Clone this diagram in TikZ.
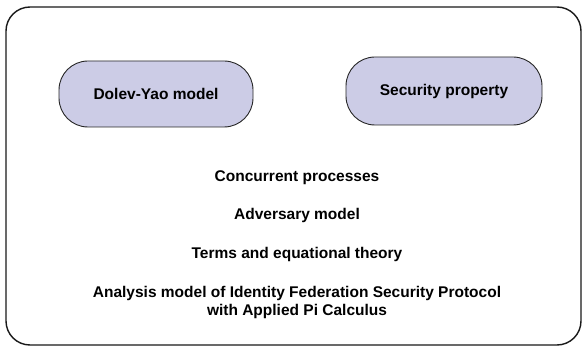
\documentclass[tikz,border=0pt]{standalone}
\usepackage{fontspec}
\setmainfont{Liberation Sans}
\tikzset{
  model/.style={draw=black!85,line width=0.9pt,fill=lavender,rounded corners=29pt,
    minimum width=194pt,minimum height=66pt,font=\bfseries\fontsize{15.5}{17}\selectfont},
  layer/.style={font=\bfseries\fontsize{15.5}{18}\selectfont,align=center,inner sep=0pt}
}
\definecolor{lavender}{RGB}{204,204,230}
\begin{document}
\begin{tikzpicture}[x=1pt,y=1pt]
    \useasboundingbox (0,0) rectangle (582,346);
    \draw[line width=1.4pt,rounded corners=24pt,draw=black!90] (6,339) rectangle (581,1);
    \node[model] (dolev) at (156,252) {Dolev-Yao model};
    \node[model,minimum width=196pt,minimum height=68pt] (secprop) at (444,255) {Security property};
    \node[layer] (conc) at (297,168) {Concurrent processes};
    \node[layer] (adv) at (297,131) {Adversary model};
    \node[layer] (terms) at (297,92) {Terms and equational theory};
    \node[layer] (anal) at (297,44) {Analysis model of Identity Federation Security Protocol\\with Applied Pi Calculus};
  \end{tikzpicture}
\end{document}
